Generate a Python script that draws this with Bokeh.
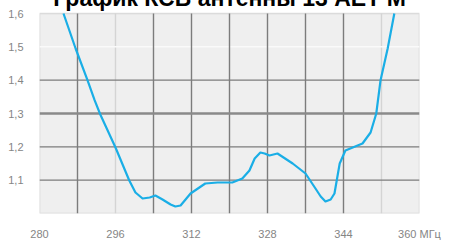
from bokeh.plotting import figure
from bokeh.models import FixedTicker, Label, BoxAnnotation
from bokeh.embed import file_html
from bokeh.resources import INLINE

title_text = "График КСВ антенны 13 AET M"

freq = [285.05, 287.6, 290.1, 291.6, 292.8, 296.0, 298.9, 300.2, 301.7, 303.2, 304.4,
        305.9, 307.6, 308.6, 309.7, 311.8, 314.9, 317.5, 320.6, 322.7, 324.2, 325.3, 326.5,
        327.4, 328.4, 330.1, 333.3, 336.0, 338.1, 339.2, 340.2, 341.3, 342.1, 343.2, 344.4,
        348.0, 349.7, 350.9, 351.8, 353.3, 354.7]
swr = [1.60, 1.495, 1.40, 1.34, 1.297, 1.198, 1.099, 1.063, 1.045, 1.048, 1.054,
       1.042, 1.027, 1.021, 1.024, 1.06, 1.09, 1.093, 1.093, 1.105, 1.129, 1.165, 1.183,
       1.18, 1.174, 1.18, 1.15, 1.12, 1.075, 1.051, 1.036, 1.042, 1.06, 1.15, 1.189,
       1.21, 1.243, 1.30, 1.40, 1.495, 1.60]

x_min, x_max = 280, 360
y_min, y_max = 1.0, 1.6
x_ticks = [280, 296, 312, 328, 344, 360]
x_tick_labels = ["280", "296", "312", "328", "344", "360 МГц"]
y_ticks = [1.1, 1.2, 1.3, 1.4, 1.5, 1.6]
y_tick_labels = ["1,1", "1,2", "1,3", "1,4", "1,5", "1,6"]
x_grid_dark = [288, 304, 312, 320, 328, 336, 344]
x_grid_light = [296, 352]
y_grid_dark = [1.1, 1.2, 1.4]
y_grid_thick = [1.3]
y_grid_white = [1.5]

# frame extends above the plot area so the title (drawn inside the frame) shows
p = figure(width=459, height=258, x_range=(x_min, x_max), y_range=(y_min, 1.675),
           output_backend="svg", toolbar_location=None, title=None,
           min_border_left=39, min_border_right=40, min_border_top=0,
           min_border_bottom=33)
p.styles = {"margin-top": "-12px"}

p.background_fill_color = "white"
p.border_fill_color = "white"
p.outline_line_color = None
p.xgrid.visible = False
p.ygrid.visible = False

area = BoxAnnotation(left=x_min, right=x_max, bottom=y_min, top=y_max,
                     fill_color="#efefef", fill_alpha=1.0,
                     line_color="#9a9a9a", line_width=1.5, level="underlay")
p.add_layout(area)

def vlines(ticks, color, width):
    p.segment(x0=ticks, y0=[y_min] * len(ticks), x1=ticks, y1=[y_max] * len(ticks),
              line_color=color, line_width=width)

def hlines(ticks, color, width):
    p.segment(x0=[x_min] * len(ticks), y0=ticks, x1=[x_max] * len(ticks), y1=ticks,
              line_color=color, line_width=width)

vlines(x_grid_light, "#d4d4d4", 1.4)
hlines(y_grid_white, "#fafafa", 1.5)
vlines(x_grid_dark, "#7c7c7c", 1.4)
hlines(y_grid_dark, "#7c7c7c", 1.4)
hlines(y_grid_thick, "#8a8a8a", 2.5)

p.line(freq, swr, line_color="#1aaee6", line_width=2.2, line_join="round")

for ax in (p.xaxis[0], p.yaxis[0]):
    ax.axis_line_color = None
    ax.major_tick_line_color = None
    ax.minor_tick_line_color = None
    ax.major_label_text_color = "#858585"
    ax.major_label_text_font = "Liberation Sans"
    ax.major_label_text_font_size = "11px"

p.xaxis.ticker = FixedTicker(ticks=x_ticks)
p.xaxis.major_label_overrides = {t: l for t, l in zip(x_ticks, x_tick_labels)}
p.xaxis.major_label_standoff = 8
p.yaxis.ticker = FixedTicker(ticks=y_ticks)
p.yaxis.major_label_overrides = {t: l for t, l in zip(y_ticks, y_tick_labels)}
p.yaxis.major_label_standoff = 10

title = Label(x=320.0, y=y_max, y_offset=16, text=title_text, text_align="center",
              text_baseline="alphabetic", text_font="Liberation Sans",
              text_font_style="bold", text_font_size="23px", text_color="black")
p.add_layout(title)

open("out.html", "w").write(file_html(p, INLINE))
